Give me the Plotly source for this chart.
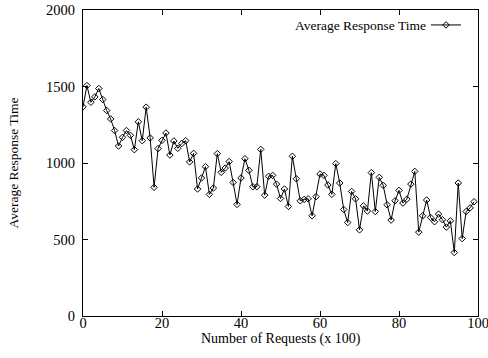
import plotly.graph_objects as go

requests = list(range(100))
response_time = [
    1367, 1506, 1397, 1432, 1487, 1415, 1343, 1288, 1212, 1111,
    1168, 1212, 1181, 1087, 1269, 1146, 1365, 1164, 841, 1094,
    1148, 1196, 1052, 1144, 1096, 1127, 1146, 1007, 1063, 830,
    902, 976, 795, 836, 1061, 939, 967, 1009, 873, 729,
    902, 1028, 952, 845, 845, 1089, 790, 913, 919, 862,
    768, 830, 716, 1044, 897, 753, 762, 766, 655, 780,
    928, 919, 856, 795, 996, 869, 696, 611, 814, 766,
    563, 720, 686, 937, 683, 906, 854, 727, 627, 753,
    821, 738, 764, 862, 945, 548, 655, 758, 644, 616,
    666, 629, 581, 622, 415, 869, 506, 683, 707, 747,
]
x_ticks = [0, 20, 40, 60, 80, 100]
y_ticks = [0, 500, 1000, 1500, 2000]
series_name = "Average Response Time"
x_title = "Number of Requests (x 100)"
y_title = "Average Response Time"

FONT = "Liberation Serif"
L, R, T, B = 83, 10, 10, 42
W, H = 488, 358
PW, PH = W - L - R, H - T - B

def px_x(p):
    return (p - L) / PW

def px_y(p):
    return (H - B - p) / PH

fig = go.Figure()
fig.add_trace(go.Scatter(
    x=requests, y=response_time, mode="lines+markers",
    name=" ",
    line=dict(color="black", width=1),
    marker=dict(symbol="diamond-open", size=5, color="black",
                line=dict(color="black", width=1)),
    showlegend=True,
))

axis_common = dict(
    showline=True, linecolor="black", linewidth=1, mirror="ticks",
    ticks="inside", ticklen=5, tickcolor="black", tickwidth=1,
    showgrid=False, zeroline=False, automargin=False,
    ticklabeloverflow="allow",
    tickfont=dict(family=FONT, size=14.5, color="black"),
)

fig.update_xaxes(range=[0, 100], tickvals=x_ticks, ticklabelstandoff=-6, **axis_common)
fig.update_yaxes(range=[0, 2000], tickvals=y_ticks, ticklabelstandoff=4,
                 title=dict(text=y_title, standoff=24,
                            font=dict(family=FONT, size=13.5, color="black")),
                 **axis_common)

fig.add_annotation(x=px_x(280.5), y=px_y(339), xref="paper", yref="paper",
                   text=x_title, showarrow=False, xanchor="center", yanchor="middle",
                   font=dict(family=FONT, size=14, color="black"))
fig.add_annotation(x=px_x(428), y=px_y(25), xref="paper", yref="paper",
                   text=series_name, showarrow=False, xanchor="right", yanchor="middle",
                   font=dict(family=FONT, size=13.5, color="black"))

fig.update_layout(
    width=W, height=H,
    margin=dict(l=L, r=R, t=T, b=B, autoexpand=False),
    paper_bgcolor="white", plot_bgcolor="white",
    font=dict(family=FONT, size=13, color="black"),
    legend=dict(x=px_x(426), y=px_y(25), xanchor="left", yanchor="middle",
                bgcolor="rgba(0,0,0,0)", itemwidth=30, font=dict(family=FONT, size=13)),
)

fig.write_html("out.html")
